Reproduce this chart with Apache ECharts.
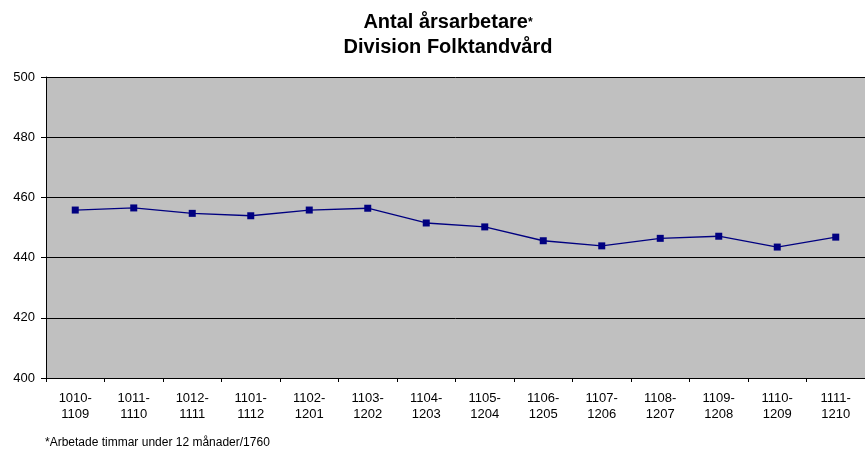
<!DOCTYPE html>
<html>
<head>
<meta charset="utf-8">
<script src="https://cdn.jsdelivr.net/npm/echarts@6/dist/echarts.min.js"></script>
<style>
  html, body { margin: 0; padding: 0; background: #fff; }
  #chart { width: 865px; height: 450px; }
</style>
</head>
<body>
<div id="chart"></div>
<script>
// Rolling 12-month periods (start-end, yymm)
const periods = [
  '1010-\n1109', '1011-\n1110', '1012-\n1111', '1101-\n1112', '1102-\n1201',
  '1103-\n1202', '1104-\n1203', '1105-\n1204', '1106-\n1205', '1107-\n1206',
  '1108-\n1207', '1109-\n1208', '1110-\n1209', '1111-\n1210'
];
// Full-time equivalents per period
const arsarbetare = [
  455.8, 456.5, 454.7, 453.9, 455.8, 456.4, 451.5,
  450.2, 445.6, 443.9, 446.4, 447.1, 443.5, 446.8
];
const yTicks = { min: 400, max: 500, step: 20 };

const font = '"Liberation Sans", Arial, sans-serif';
const chart = echarts.init(document.getElementById('chart'));

chart.setOption({
  animation: false,
  backgroundColor: '#ffffff',
  title: {
    text: 'Antal årsarbetare{s|*}\nDivision Folktandvård',
    left: 443,
    top: 5,
    textAlign: 'center',
    textStyle: {
      fontFamily: font,
      fontWeight: 'bold',
      fontSize: 20,
      color: '#000',
      lineHeight: 25,
      rich: {
        s: { fontFamily: font, fontWeight: 'bold', fontSize: 12, color: '#000', lineHeight: 25 }
      }
    }
  },
  grid: {
    left: 46,
    right: -13,
    top: 77,
    bottom: 72,
    show: true,
    backgroundColor: '#c0c0c0',
    borderWidth: 0
  },
  xAxis: {
    type: 'category',
    data: periods,
    boundaryGap: true,
    axisLine: { show: true, lineStyle: { color: '#000', width: 1 } },
    axisTick: { show: true, length: 4, inside: false, lineStyle: { color: '#000' } },
    axisLabel: {
      interval: 0,
      margin: 12,
      fontFamily: font,
      fontSize: 13,
      lineHeight: 16,
      color: '#000'
    },
    splitLine: { show: false }
  },
  yAxis: {
    type: 'value',
    min: yTicks.min,
    max: yTicks.max,
    interval: yTicks.step,
    axisLine: { show: true, lineStyle: { color: '#000', width: 1 } },
    axisTick: { show: true, length: 5, lineStyle: { color: '#000' } },
    axisLabel: {
      margin: 11,
      fontFamily: font,
      fontSize: 13,
      color: '#000'
    },
    splitLine: { show: true, lineStyle: { color: '#000', width: 1 } }
  },
  series: [{
    type: 'line',
    data: arsarbetare,
    symbol: 'rect',
    symbolSize: 7,
    lineStyle: { color: '#000080', width: 1.3 },
    itemStyle: { color: '#000080' },
    z: 5
  }],
  graphic: [{
    type: 'text',
    left: 45,
    top: 437,
    style: {
      text: '*Arbetade timmar under 12 månader/1760',
      fontFamily: font,
      fontSize: 12,
      fill: '#000'
    }
  }]
});
</script>
</body>
</html>
